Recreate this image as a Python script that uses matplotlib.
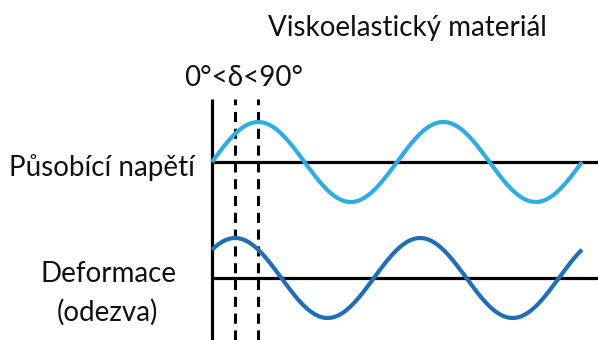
import numpy as np
import matplotlib
matplotlib.use("Agg")
import matplotlib.pyplot as plt

# ---- data ----
title = "Viskoelastický materiál"
delta_label = "0°<δ<90°"
row_labels = ["Působící napětí", "Deformace", "(odezva)"]
wave_names = ["stress", "strain"]
wave_phase_lead_deg = [0, 45]        # strain leads stress by ~45 deg in drawing
wave_amplitude = [1.0, 1.0]
wave_baseline = [2.9, 0.0]
wave_colors = ["#2EADE3", "#1F6FB7"]
wave_span_deg = [0, 720]             # two full cycles
dashed_marks_deg = [45, 90]          # dashed guides at the two peaks
axis_right_deg = 751

W, H, DPI = 598, 340, 100
fig = plt.figure(figsize=(W / DPI, H / DPI), dpi=DPI)
ax = fig.add_axes([0, 0, 1, 1])
ax.set_axis_off()

# pixel mapping: x_px = 212 + t*185/360 ; y_px = 278 - 40*v
kx = 185 / 360
x0 = 212
ky = 40
y0 = 278
ax.set_xlim(-x0 / kx, (W - x0) / kx)
ax.set_ylim(-(H - y0) / ky, y0 / ky)

t = np.linspace(wave_span_deg[0], wave_span_deg[1], 600)
for amp, base, lead, col in zip(wave_amplitude, wave_baseline,
                                wave_phase_lead_deg, wave_colors):
    ax.plot(t, base + amp * np.sin(np.radians(t + lead)), color=col,
            lw=3.0, solid_capstyle="butt", zorder=3)

# horizontal baselines
for base in wave_baseline:
    ax.plot([0, axis_right_deg], [base, base], color="black", lw=2.3,
            zorder=2, solid_capstyle="butt")

top_v = (y0 - 99) / ky
bot_v = -(H - y0) / ky
ax.plot([0, 0], [bot_v, top_v], color="black", lw=2.3, zorder=2,
        solid_capstyle="butt")
for m in dashed_marks_deg:
    ax.plot([m, m], [bot_v, top_v], color="black", lw=2.2,
            dashes=(3.3, 2.2), zorder=1)

font = "Lato"
fs = 20


def txt(x_px, base_px, s, size=fs):
    fig.text(x_px / W, 1 - base_px / H, s, ha="center", va="baseline",
             fontsize=size, family=[font, "DejaVu Sans"], color="#111111")


txt(407, 36, title)
txt(244, 86, delta_label)
txt(102, 176, row_labels[0])
txt(109, 282, row_labels[1])
txt(107, 321, row_labels[2])

fig.savefig("out.png", dpi=DPI)
